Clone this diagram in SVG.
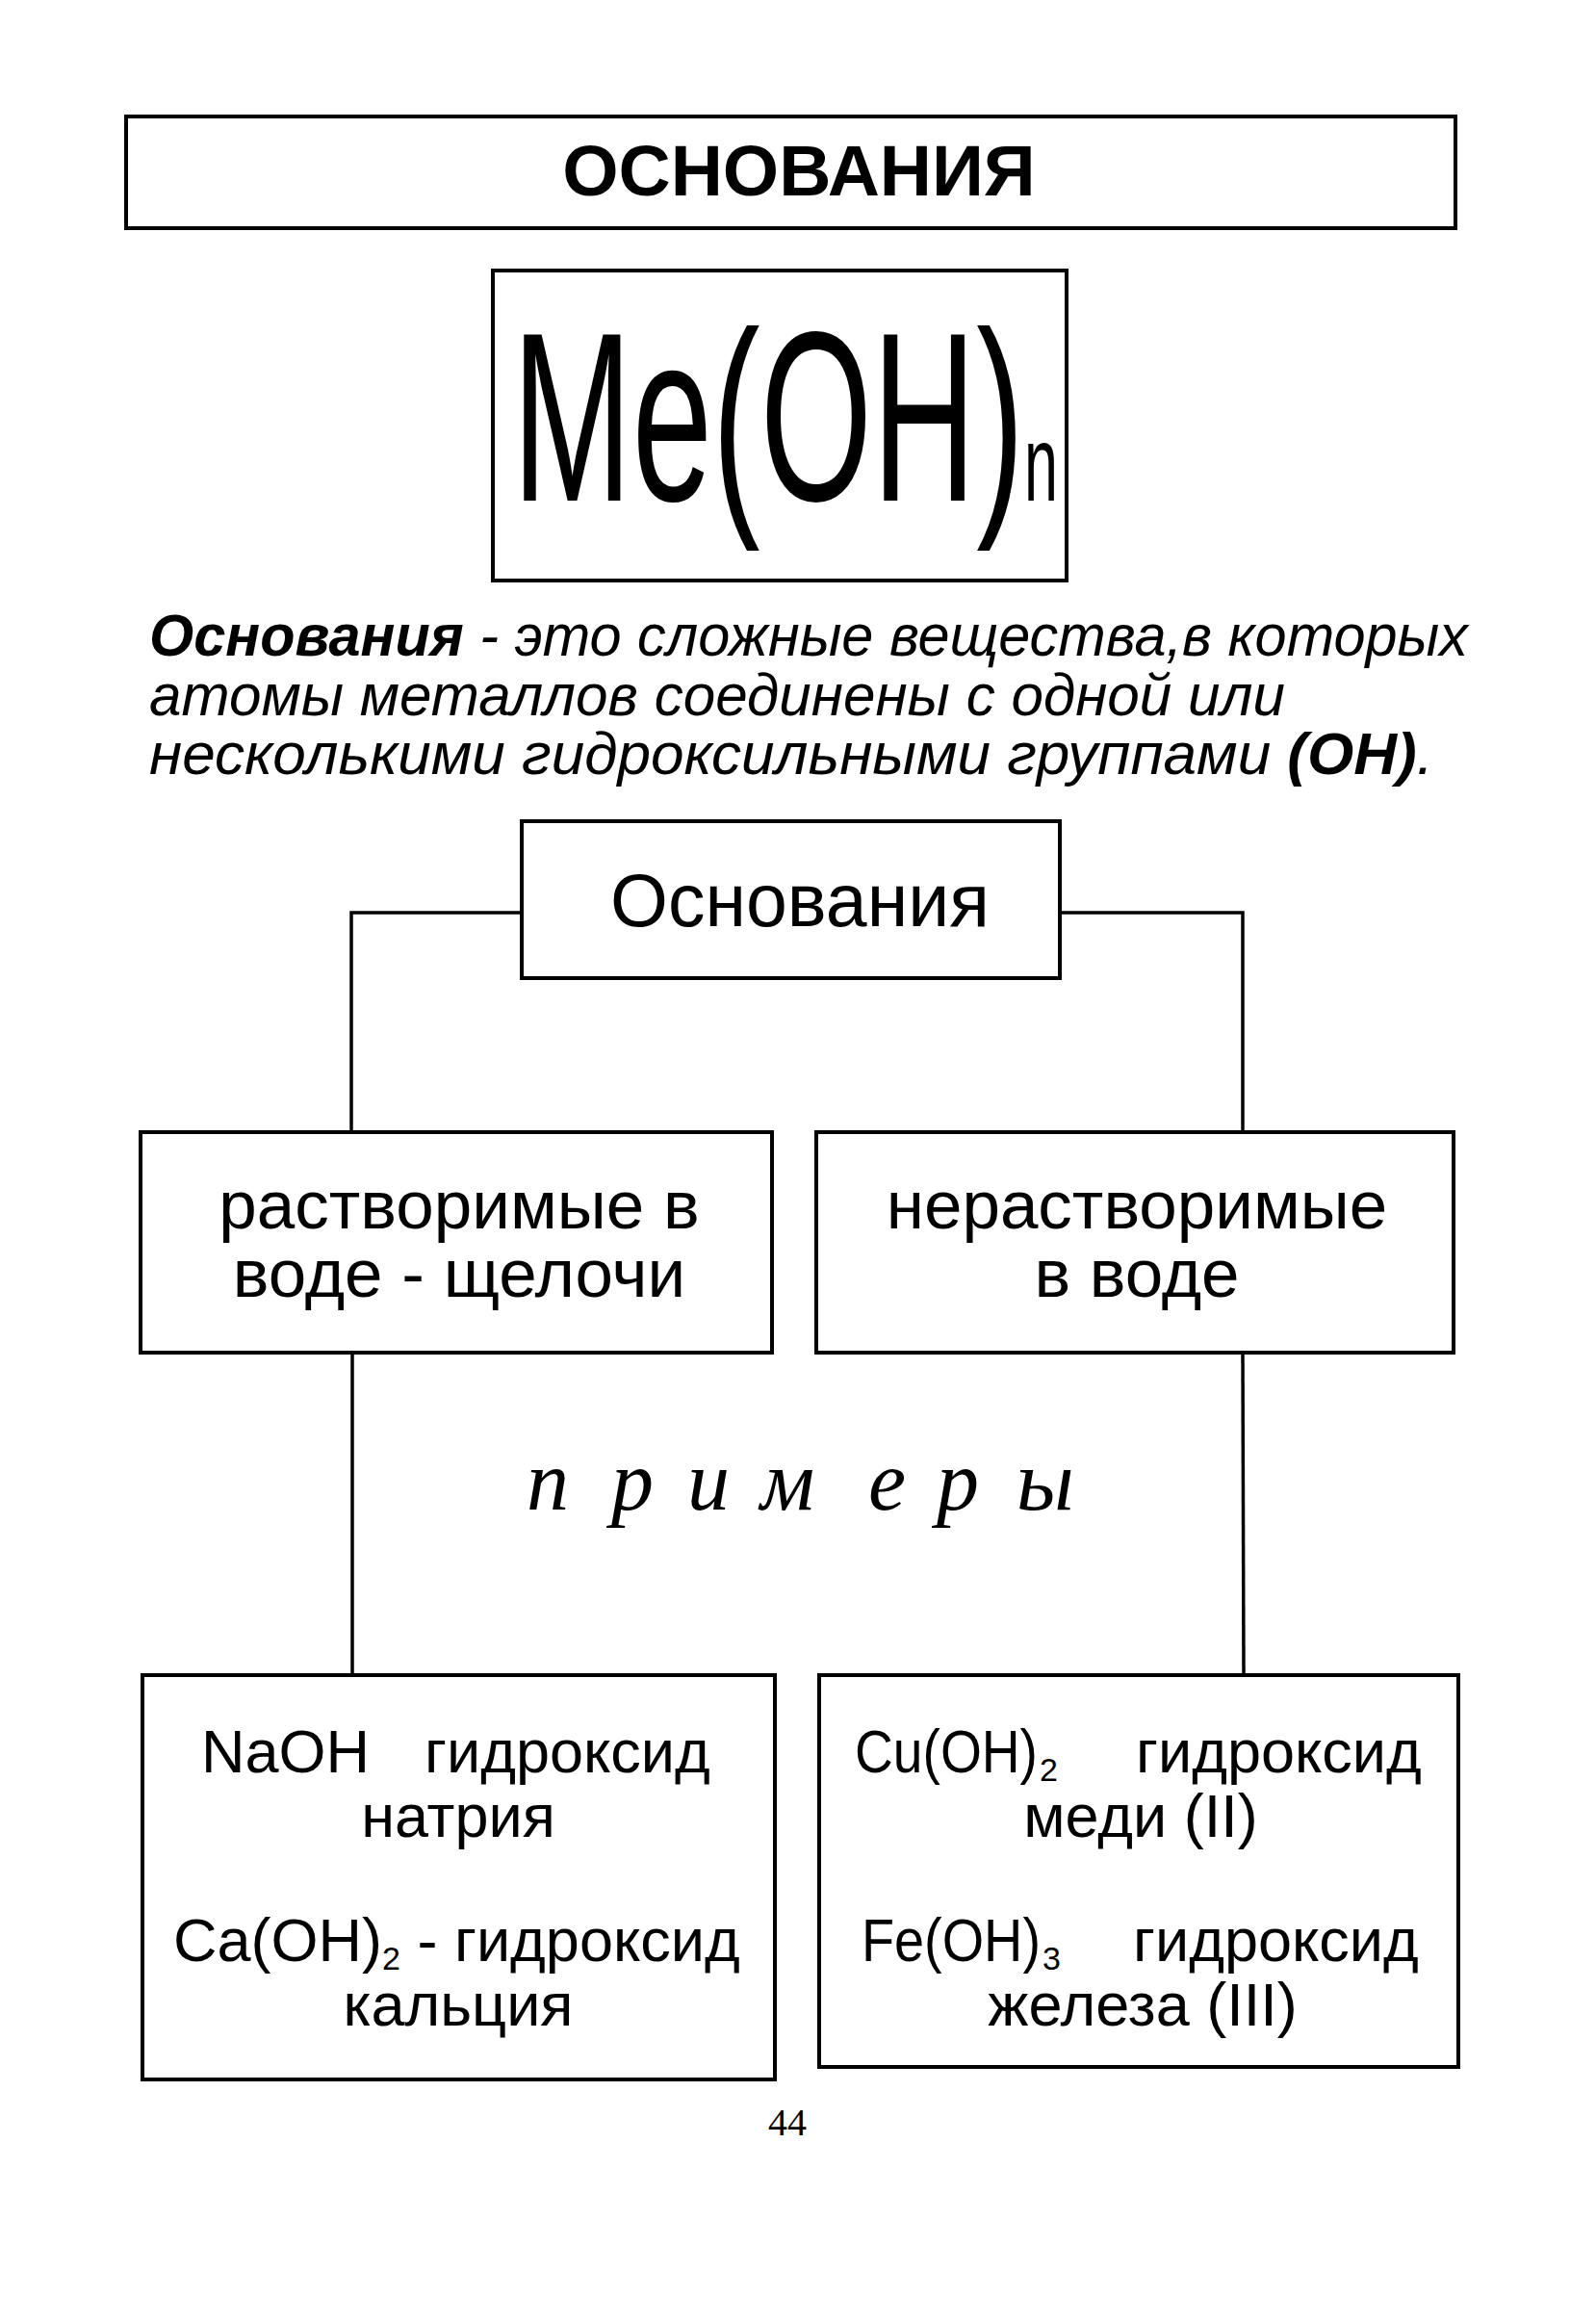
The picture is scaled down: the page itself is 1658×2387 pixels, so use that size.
<svg xmlns="http://www.w3.org/2000/svg" width="1658" height="2387" viewBox="0 0 1658 2387">
<style>
.box{fill:#fff;stroke:#000;stroke-width:4}
.conn{fill:none;stroke:#000;stroke-width:3.5}
.sans{font-family:"Liberation Sans",Arial,sans-serif;fill:#000}
.serif{font-family:"Liberation Serif","Times New Roman",serif;fill:#000}
.mid{font-size:71px;text-anchor:middle}
.bot{font-size:63px}
.sub{font-size:34px}
</style>
<rect width="1658" height="2387" fill="#fff"/>
<g id="title">
<rect class="box" x="131" y="121" width="1381" height="116"/>
<text class="sans" x="830" y="203" font-size="75" font-weight="bold" text-anchor="middle">ОСНОВАНИЯ</text>
</g>
<g id="formula">
<rect class="box" x="512" y="281" width="596" height="322" stroke-width="5"/>
<text class="sans" x="532" y="520" font-size="250" textLength="532" lengthAdjust="spacingAndGlyphs">Me(OH)</text>
<text class="sans" x="1064" y="520" font-size="112" textLength="35" lengthAdjust="spacingAndGlyphs">n</text>
</g>
<g id="definition" class="sans" font-size="62" font-style="italic">
<text x="155" y="681" textLength="1370" lengthAdjust="spacingAndGlyphs"><tspan font-weight="bold">Основания</tspan> - это сложные вещества,в которых</text>
<text x="155" y="743" textLength="1180" lengthAdjust="spacingAndGlyphs">атомы металлов соединены с одной или</text>
<text x="155" y="804" textLength="1334" lengthAdjust="spacingAndGlyphs">несколькими гидроксильными группами <tspan font-weight="bold">(ОН)</tspan>.</text>
</g>
<g id="connectors">
<polyline class="conn" points="542,948 365,948 365,1175"/>
<polyline class="conn" points="1101,948 1291,948 1291,1175"/>
<line class="conn" x1="366" y1="1405" x2="366" y2="1739"/>
<line class="conn" x1="1291" y1="1405" x2="1292" y2="1739"/>
</g>
<g id="root">
<rect class="box" x="542" y="853" width="559" height="163"/>
<text class="sans" x="831" y="962" font-size="77" text-anchor="middle">Основания</text>
</g>
<g id="soluble">
<rect class="box" x="146" y="1176" width="656" height="229"/>
<text class="sans mid" x="477" y="1276">растворимые в</text>
<text class="sans mid" x="477" y="1347">воде - щелочи</text>
</g>
<g id="insoluble">
<rect class="box" x="848" y="1176" width="662" height="229"/>
<text class="sans mid" x="1181" y="1276">нерастворимые</text>
<text class="sans mid" x="1181" y="1347">в воде</text>
</g>
<g id="examples-label">
<text class="serif" y="1568" font-size="88" font-style="italic" x="547 635 714 790 902 973 1056">примеры</text>
</g>
<g id="soluble-examples">
<rect class="box" x="148" y="1740" width="657" height="420"/>
<text class="sans bot" y="1841"><tspan x="209">NaOH</tspan><tspan x="441">гидроксид</tspan></text>
<text class="sans bot" x="476" y="1908" text-anchor="middle">натрия</text>
<text class="sans bot" y="2037"><tspan x="180">Ca(OH)</tspan><tspan class="sub" dy="9">2</tspan><tspan dy="-9"> - гидроксид</tspan></text>
<text class="sans bot" x="476" y="2104" text-anchor="middle">кальция</text>
</g>
<g id="insoluble-examples">
<rect class="box" x="851" y="1740" width="664" height="407"/>
<text class="sans bot" y="1841"><tspan x="888" textLength="190" lengthAdjust="spacingAndGlyphs">Cu(OH)</tspan><tspan class="sub" x="1080" dy="9">2</tspan><tspan x="1180" dy="-9">гидроксид</tspan></text>
<text class="sans bot" x="1185" y="1908" text-anchor="middle">меди (II)</text>
<text class="sans bot" y="2037"><tspan x="895" textLength="186" lengthAdjust="spacingAndGlyphs">Fe(OH)</tspan><tspan class="sub" x="1083" dy="9">3</tspan><tspan x="1177" dy="-9">гидроксид</tspan></text>
<text class="sans bot" x="1187" y="2104" text-anchor="middle">железа (III)</text>
</g>
<text class="serif" x="818" y="2218" font-size="40" text-anchor="middle">44</text>
</svg>
